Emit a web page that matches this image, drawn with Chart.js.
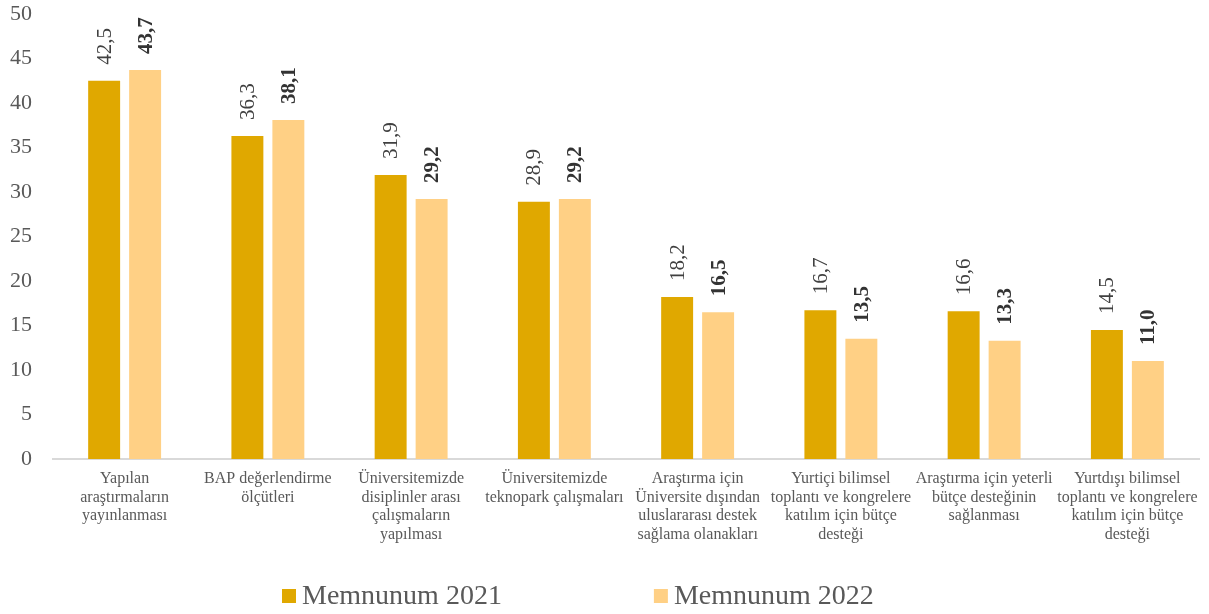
<!DOCTYPE html>
<html>
<head>
<meta charset="utf-8">
<script src="https://cdn.jsdelivr.net/npm/chart.js@4/dist/chart.umd.min.js"></script>
<style>
    body { margin: 0; background: #fff; }
    #wrap { width: 1209px; height: 614px; }
</style>
</head>
<body>
<div id="wrap"><canvas id="chart" width="1209" height="614"></canvas></div>
<script>
const categories = [
    ['Yapılan', 'araştırmaların', 'yayınlanması'],
    ['BAP değerlendirme', 'ölçütleri'],
    ['Üniversitemizde', 'disiplinler arası', 'çalışmaların', 'yapılması'],
    ['Üniversitemizde', 'teknopark çalışmaları'],
    ['Araştırma için', 'Üniversite dışından', 'uluslararası destek', 'sağlama olanakları'],
    ['Yurtiçi bilimsel', 'toplantı ve kongrelere', 'katılım için bütçe', 'desteği'],
    ['Araştırma için yeterli', 'bütçe desteğinin', 'sağlanması'],
    ['Yurtdışı bilimsel', 'toplantı ve kongrelere', 'katılım için bütçe', 'desteği']
];
const series2021 = [42.5, 36.3, 31.9, 28.9, 18.2, 16.7, 16.6, 14.5];
const series2022 = [43.7, 38.1, 29.2, 29.2, 16.5, 13.5, 13.3, 11.0];
const seriesNames = ['Memnunum 2021', 'Memnunum 2022'];

const SERIF = '"Liberation Serif", "Times New Roman", serif';

// value labels, rotated, above each bar
const barLabels = {
    id: 'barLabels',
    afterDatasetsDraw(chart) {
        const ctx = chart.ctx;
        chart.data.datasets.forEach((ds, i) => {
            const meta = chart.getDatasetMeta(i);
            meta.data.forEach((bar, j) => {
                const txt = ds.data[j].toFixed(1).replace('.', ',');
                ctx.save();
                ctx.translate(bar.x + 1, bar.y - 16);
                ctx.rotate(-Math.PI / 2);
                ctx.font = (i === 1 ? 'bold ' : '') + '21px ' + SERIF;
                ctx.fillStyle = i === 1 ? '#333333' : '#404040';
                ctx.textAlign = 'left';
                ctx.textBaseline = 'middle';
                ctx.fillText(txt, 0, 0);
                ctx.restore();
            });
        });
    }
};

// legend at the bottom, wide spacing between items
const bottomLegend = {
    id: 'bottomLegend',
    afterDraw(chart, args, opts) {
        const ctx = chart.ctx;
        ctx.save();
        ctx.font = '28px ' + SERIF;
        ctx.textBaseline = 'alphabetic';
        let x = opts.x;
        chart.data.datasets.forEach(ds => {
            ctx.fillStyle = ds.backgroundColor;
            ctx.fillRect(x, opts.y - 15, 14, 14);
            ctx.fillStyle = '#595959';
            ctx.fillText(ds.label, x + 20, opts.y);
            x += 20 + ctx.measureText(ds.label).width + opts.gap;
        });
        ctx.restore();
    }
};

new Chart(document.getElementById('chart'), {
    type: 'bar',
    data: {
        labels: categories,
        datasets: [
            { label: seriesNames[0], data: series2021, backgroundColor: '#E0A800' },
            { label: seriesNames[1], data: series2022, backgroundColor: '#FFD085' }
        ]
    },
    options: {
        responsive: false,
        animation: false,
        maintainAspectRatio: false,
        categoryPercentage: 0.572,
        barPercentage: 0.78,
        layout: { padding: { left: 8, right: 10, top: 14, bottom: 65 } },
        plugins: {
            legend: { display: false },
            tooltip: { enabled: false },
            bottomLegend: { x: 282, y: 604, gap: 152 }
        },
        scales: {
            x: {
                grid: { display: false, drawTicks: false },
                border: { display: true, color: '#D9D9D9', width: 2 },
                afterFit(scale) {
                    scale.height = 90;
                    scale.paddingLeft = 0;
                    scale.paddingRight = 0;
                },
                ticks: {
                    color: '#595959',
                    font: { family: SERIF, size: 16, lineHeight: 1.15 },
                    padding: 11,
                    maxRotation: 0,
                    autoSkip: false
                }
            },
            y: {
                min: 0,
                max: 50,
                grid: { display: false, drawTicks: false },
                border: { display: false },
                afterFit(scale) {
                    scale.width = 45;
                    scale.paddingTop = 0;
                    scale.paddingBottom = 0;
                },
                ticks: {
                    stepSize: 5,
                    color: '#595959',
                    font: { family: SERIF, size: 22 },
                    padding: 21
                }
            }
        }
    },
    plugins: [barLabels, bottomLegend]
});
</script>
</body>
</html>
